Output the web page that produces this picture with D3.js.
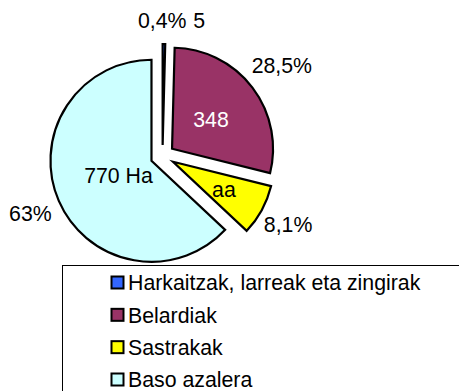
<!DOCTYPE html>
<html>
<head>
<meta charset="utf-8">
<script src="https://cdn.jsdelivr.net/npm/d3@7"></script>
<style>
  html, body { margin: 0; padding: 0; background: #fff; }
  svg { display: block; font-family: "Liberation Sans", Arial, sans-serif; }
</style>
</head>
<body>
<svg id="chart" width="459" height="391"></svg>
<script>
// Land use, hectares
const categories = ["Harkaitzak, larreak eta zingirak", "Belardiak", "Sastrakak", "Baso azalera"];
const values = [5, 348, 99, 770];
const percentLabels = ["0,4%", "28,5%", "8,1%", "63%"];
const valueLabels = ["5", "348", "aa", "770 Ha"];
const colors = ["#3366FF", "#993366", "#FFFF00", "#CCFFFF"];

const svg = d3.select("#chart");
const cx = 162.5, cy = 156, radius = 101;
const explode = [11, 12, 12, 12];
const fontSize = 21.3;

const pie = d3.pie().sort(null).value(d => d);
const arcs = pie(values);
const arc = d3.arc().innerRadius(0).outerRadius(radius);

const mid = a => (a.startAngle + a.endAngle) / 2;
const dir = a => [Math.sin(mid(a)), -Math.cos(mid(a))];

const g = svg.append("g").attr("transform", `translate(${cx},${cy})`);

// Exploded slices
g.selectAll("path.slice")
  .data(arcs)
  .join("path")
  .attr("class", "slice")
  .attr("transform", (a, i) => {
    const [ux, uy] = dir(a);
    return `translate(${ux * explode[i]},${uy * explode[i]})`;
  })
  .attr("d", arc)
  .attr("fill", (a, i) => colors[i])
  .attr("stroke", "#000")
  .attr("stroke-width", 2.2)
  .attr("stroke-linejoin", "miter");

// Percent labels outside the pie
const pctRadius = [135, 150, 143, 144];
const pctShift = [[-2, 0], [0, 0], [0, 0], [0, 0]];
g.selectAll("text.pct")
  .data(arcs)
  .join("text")
  .attr("class", "pct")
  .attr("x", (a, i) => dir(a)[0] * pctRadius[i] + pctShift[i][0])
  .attr("y", (a, i) => dir(a)[1] * pctRadius[i] + pctShift[i][1])
  .attr("dy", "0.35em")
  .attr("text-anchor", "middle")
  .attr("font-size", fontSize)
  .attr("fill", "#000")
  .text((a, i) => percentLabels[i]);

// Value for the thin slice sits beside its percentage
const thin = arcs[0];
g.append("text")
  .attr("x", dir(thin)[0] * pctRadius[0] + 35)
  .attr("y", dir(thin)[1] * pctRadius[0])
  .attr("dy", "0.35em")
  .attr("text-anchor", "middle")
  .attr("font-size", fontSize)
  .text(valueLabels[0]);

// Value labels inside the slices
const innerRadius = [0, 61, 70, 48];
g.selectAll("text.val")
  .data(arcs.slice(1))
  .join("text")
  .attr("class", "val")
  .attr("x", a => dir(a)[0] * innerRadius[a.index])
  .attr("y", a => dir(a)[1] * innerRadius[a.index])
  .attr("dy", "0.35em")
  .attr("text-anchor", "middle")
  .attr("font-size", fontSize)
  .attr("fill", a => a.index === 1 ? "#fff" : "#000")
  .text(a => valueLabels[a.index]);

// Legend
const legend = svg.append("g");
legend.append("rect")
  .attr("x", 62.5).attr("y", 265.5)
  .attr("width", 420).attr("height", 160)
  .attr("fill", "#fff").attr("stroke", "#000").attr("stroke-width", 1);

const rowY = d3.scalePoint().domain(categories).range([283, 380]);
const rows = legend.selectAll("g.row")
  .data(categories)
  .join("g")
  .attr("class", "row")
  .attr("transform", d => `translate(0,${rowY(d)})`);

rows.append("rect")
  .attr("x", 111.5).attr("y", -6.5)
  .attr("width", 12).attr("height", 12)
  .attr("fill", (d, i) => colors[i])
  .attr("stroke", "#000").attr("stroke-width", 2);

rows.append("text")
  .attr("x", 128)
  .attr("dy", "0.35em")
  .attr("font-size", fontSize)
  .text(d => d);
</script>
</body>
</html>
